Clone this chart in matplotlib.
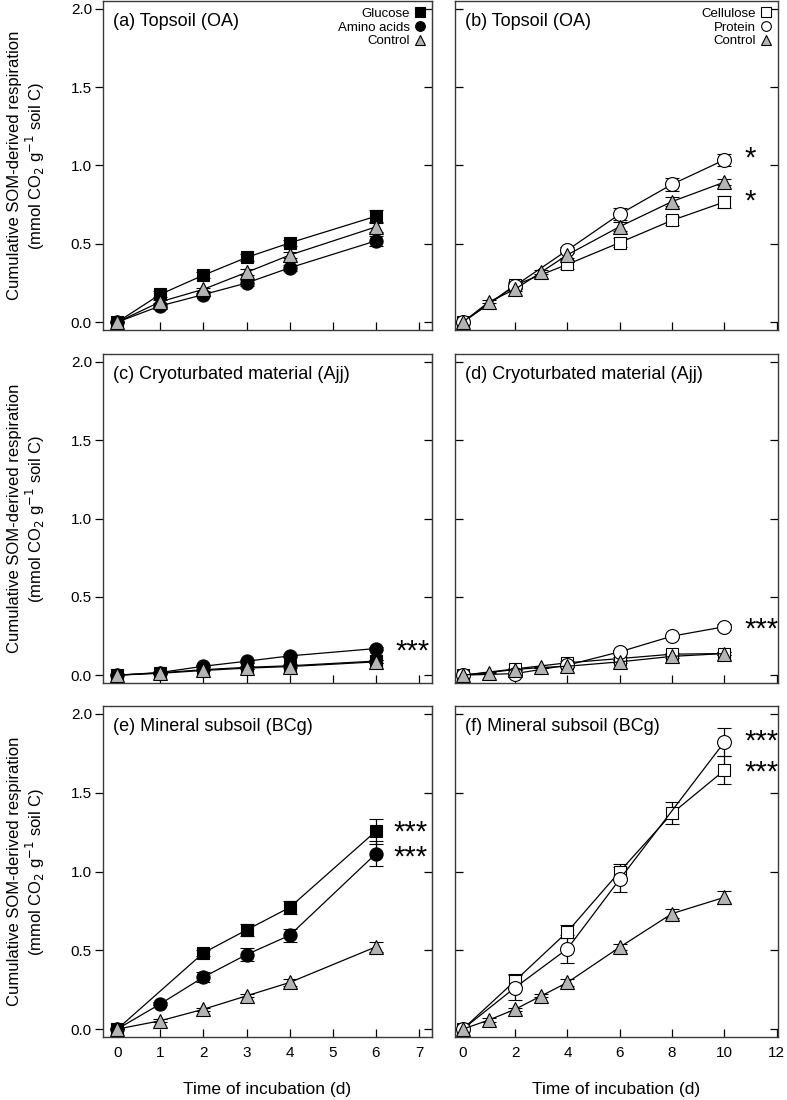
import matplotlib
matplotlib.use("Agg")
import matplotlib.pyplot as plt
from matplotlib.lines import Line2D

plt.rcParams['font.family'] = ['Liberation Sans', 'DejaVu Sans']

# ---- data ----
# left column: glucose, amino acids, control (days 0-6)
days_l = [0, 1, 2, 3, 4, 6]
glc_a = [0, 0.178, 0.300, 0.413, 0.506, 0.676]
glc_a_err = [0, 0.02, 0.02, 0.02, 0.02, 0.04]
aa_a = [0, 0.104, 0.176, 0.250, 0.347, 0.519]
aa_a_err = [0, 0.01, 0.01, 0.02, 0.02, 0.03]
ctl_a = [0, 0.130, 0.210, 0.318, 0.428, 0.608]
ctl_a_err = [0, 0.01, 0.01, 0.02, 0.02, 0.03]

glc_c = [0, 0.015, 0.035, 0.050, 0.060, 0.090]
glc_c_err = [0, 0.005, 0.005, 0.01, 0.01, 0.01]
aa_c = [0, 0.017, 0.057, 0.089, 0.123, 0.170]
aa_c_err = [0, 0.005, 0.005, 0.01, 0.01, 0.01]
ctl_c = [0, 0.012, 0.030, 0.045, 0.055, 0.085]
ctl_c_err = [0, 0.005, 0.005, 0.005, 0.01, 0.01]

days_glc_e = [0, 2, 3, 4, 6]
glc_e = [0, 0.484, 0.629, 0.772, 1.256]
glc_e_err = [0, 0.02, 0.04, 0.04, 0.08]
aa_e = [0, 0.160, 0.330, 0.473, 0.595, 1.113]
aa_e_err = [0, 0.01, 0.03, 0.04, 0.04, 0.08]
ctl_e = [0, 0.053, 0.126, 0.211, 0.296, 0.522]
ctl_e_err = [0, 0.01, 0.01, 0.01, 0.02, 0.03]

# right column: cellulose, protein, control (days 0-10)
days_r = [0, 2, 4, 6, 8, 10]
days_ctl = [0, 1, 2, 3, 4, 6, 8, 10]
cel_b = [0, 0.237, 0.369, 0.508, 0.650, 0.767]
cel_b_err = [0, 0.02, 0.03, 0.03, 0.03, 0.04]
pro_b = [0, 0.233, 0.460, 0.690, 0.880, 1.036]
pro_b_err = [0, 0.02, 0.02, 0.04, 0.04, 0.04]
ctl_b = [0, 0.130, 0.210, 0.320, 0.430, 0.610, 0.770, 0.894]
ctl_b_err = [0, 0.01, 0.01, 0.01, 0.02, 0.03, 0.03, 0.02]

cel_d = [0, 0.040, 0.079, 0.106, 0.134, 0.138]
cel_d_err = [0, 0.005, 0.01, 0.01, 0.01, 0.01]
pro_d = [0, 0.010, 0.064, 0.149, 0.249, 0.309]
pro_d_err = [0, 0.005, 0.01, 0.01, 0.01, 0.02]
ctl_d = [0, 0.017, 0.036, 0.049, 0.057, 0.085, 0.120, 0.138]
ctl_d_err = [0, 0.005, 0.005, 0.005, 0.005, 0.01, 0.01, 0.01]

cel_f = [0, 0.307, 0.618, 1.000, 1.369, 1.642]
cel_f_err = [0, 0.04, 0.04, 0.05, 0.07, 0.09]
days_pro_f = [0, 2, 4, 6, 10]
pro_f = [0, 0.264, 0.510, 0.951, 1.821]
pro_f_err = [0, 0.08, 0.09, 0.08, 0.09]
ctl_f = [0, 0.058, 0.126, 0.211, 0.296, 0.520, 0.733, 0.836]
ctl_f_err = [0, 0.01, 0.01, 0.01, 0.02, 0.02, 0.03, 0.04]

titles = ['(a) Topsoil (OA)', '(b) Topsoil (OA)',
          '(c) Cryoturbated material (Ajj)', '(d) Cryoturbated material (Ajj)',
          '(e) Mineral subsoil (BCg)', '(f) Mineral subsoil (BCg)']
left_labels = ['Glucose', 'Amino acids', 'Control']
right_labels = ['Cellulose', 'Protein', 'Control']

GREY = '#b4b4b4'
ylab = 'Cumulative SOM-derived respiration\n(mmol CO$_2$ g$^{-1}$ soil C)'

# marker styles: (marker, facecolor, size)
sty_glc = ('s', 'black', 8.5)
sty_aa = ('o', 'black', 9.5)
sty_ctl = ('^', GREY, 10)
sty_cel = ('s', 'white', 8.5)
sty_pro = ('o', 'white', 10)


def series(ax, x, y, e, sty):
    m, fc, ms = sty
    ax.errorbar(x, y, yerr=e, color='black', lw=0.9, elinewidth=0.9,
                capsize=4.7, capthick=0.9, marker=m, mfc=fc, mec='black',
                mew=0.8, ms=ms)


def stars(ax, x, y, s, ls=1.2):
    ax.text(x, y, s, fontsize=21, ha='left', va='center', clip_on=False,
            linespacing=ls)


fig = plt.figure(figsize=(7.87, 11), dpi=100)
W, H = 787, 1100
cols = [(103, 432), (455, 778)]
rows = [(1, 330), (354, 683), (706, 1037)]
axes = {}
for r, (top, bot) in enumerate(rows):
    for c, (l, rt) in enumerate(cols):
        ax = fig.add_axes([l / W, 1 - bot / H, (rt - l) / W, (bot - top) / H])
        axes[(r, c)] = ax

# draw
series(axes[0, 0], days_l, glc_a, glc_a_err, sty_glc)
series(axes[0, 0], days_l, aa_a, aa_a_err, sty_aa)
series(axes[0, 0], days_l, ctl_a, ctl_a_err, sty_ctl)

series(axes[1, 0], days_l, glc_c, glc_c_err, sty_glc)
series(axes[1, 0], days_l, aa_c, aa_c_err, sty_aa)
series(axes[1, 0], days_l, ctl_c, ctl_c_err, sty_ctl)

series(axes[2, 0], days_glc_e, glc_e, glc_e_err, sty_glc)
series(axes[2, 0], days_l, aa_e, aa_e_err, sty_aa)
series(axes[2, 0], days_l, ctl_e, ctl_e_err, sty_ctl)

series(axes[0, 1], days_r, cel_b, cel_b_err, sty_cel)
series(axes[0, 1], days_r, pro_b, pro_b_err, sty_pro)
series(axes[0, 1], days_ctl, ctl_b, ctl_b_err, sty_ctl)

series(axes[1, 1], days_r, cel_d, cel_d_err, sty_cel)
series(axes[1, 1], days_r, pro_d, pro_d_err, sty_pro)
series(axes[1, 1], days_ctl, ctl_d, ctl_d_err, sty_ctl)

series(axes[2, 1], days_r, cel_f, cel_f_err, sty_cel)
series(axes[2, 1], days_pro_f, pro_f, pro_f_err, sty_pro)
series(axes[2, 1], days_ctl, ctl_f, ctl_f_err, sty_ctl)

# significance marks (stacked pairs drawn as one two-line text)
stars(axes[0, 1], 10.75, pro_b[-1] + 0.01, '*')
stars(axes[0, 1], 10.75, cel_b[-1] + 0.0, '*')
stars(axes[1, 0], 6.45, aa_c[-1] - 0.02, '***')
stars(axes[1, 1], 10.75, pro_d[-1] - 0.02, '***')
stars(axes[2, 0], 6.4, (glc_e[-1] + aa_e[-1]) / 2 - 0.015, '***\n***', ls=0.87)
stars(axes[2, 1], 10.75, (pro_f[-1] + cel_f[-1]) / 2 - 0.005, '***\n***', ls=1.15)

# axes styling
for (r, c), ax in axes.items():
    for sp in ax.spines.values():
        sp.set_color('#3a3a3a')
        sp.set_linewidth(1.0)
    ax.set_ylim(-0.05, 2.05)
    ax.set_yticks([0, 0.5, 1.0, 1.5, 2.0])
    ax.text(0.03, 0.965, titles[r * 2 + c], transform=ax.transAxes,
            fontsize=13, ha='left', va='top')
    ax.tick_params(axis='x', direction='in', length=6, width=0.9,
                   labelsize=11, pad=6.5, labelbottom=(r == 2))
    if c == 0:
        ax.set_xlim(-0.33, 7.3)
        ax.set_xticks(range(0, 8))
        ax.tick_params(axis='y', direction='out', length=6, width=0.9,
                       labelsize=11, pad=2)
        ax.set_yticklabels(['0.0', '0.5', '1.0', '1.5', '2.0'])
        sec = ax.secondary_yaxis('right')
        sec.set_yticks([0, 0.5, 1.0, 1.5, 2.0])
        sec.tick_params(direction='in', length=6, width=0.9, labelright=False)
        sec.spines['right'].set_color('#3a3a3a')
        fig.text(0.034, 1 - (rows[r][0] + rows[r][1]) / 2 / H, ylab,
                 rotation=90, ha='center', va='center', fontsize=12,
                 linespacing=1.1)
    else:
        ax.set_xlim(-0.3, 12.05)
        ax.set_xticks(range(0, 13, 2))
        ax.tick_params(axis='y', direction='in', length=6, width=0.9,
                       left=True, right=True, labelleft=False)
    if r == 2:
        ax.set_xlabel('Time of incubation (d)', fontsize=12.5, labelpad=15.5)

# legends in top row
leg_l = [Line2D([], [], ls='none', marker=m, mfc=fc, mec='black', mew=0.8, ms=7)
         for m, fc, _ in (sty_glc, sty_aa, sty_ctl)]
leg_r = [Line2D([], [], ls='none', marker=m, mfc=fc, mec='black', mew=0.8, ms=7)
         for m, fc, _ in (sty_cel, sty_pro, sty_ctl)]
for ax, hs, labs in ((axes[0, 0], leg_l, left_labels), (axes[0, 1], leg_r, right_labels)):
    ax.legend(hs, labs, loc='upper right', markerfirst=False, frameon=False,
              fontsize=9.5, handlelength=0.8, handletextpad=0.4,
              labelspacing=0.12, borderaxespad=0.2, borderpad=0.3)

fig.savefig('out.png', dpi=100)
